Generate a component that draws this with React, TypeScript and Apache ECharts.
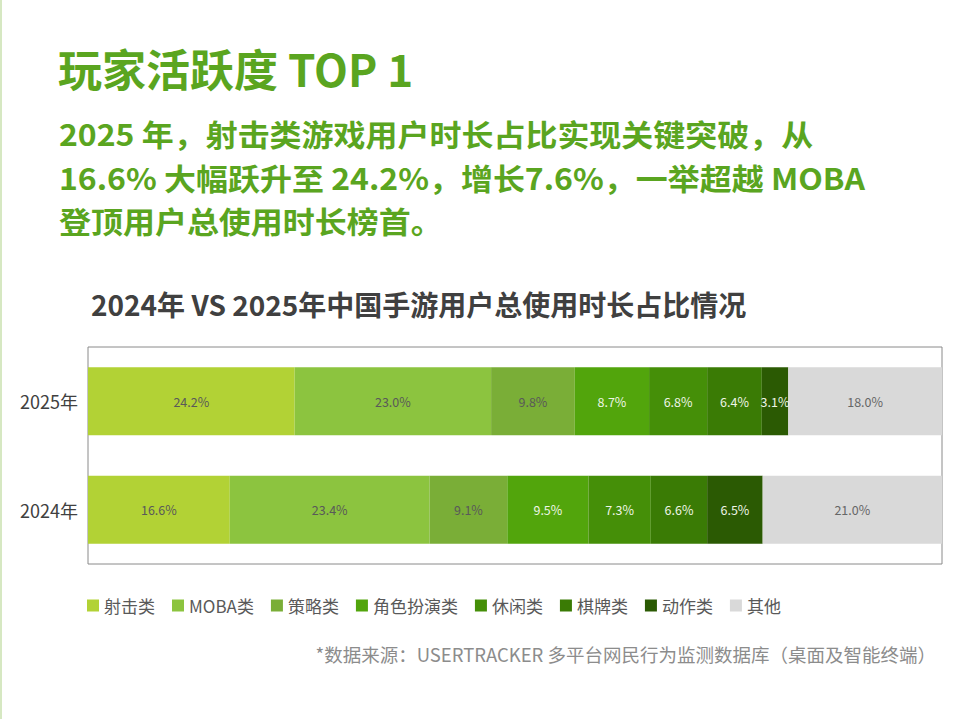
import React, { useEffect, useRef } from "react";
import * as echarts from "echarts";

const years = ["2024年", "2025年"];
const genres = ["射击类", "MOBA类", "策略类", "角色扮演类", "休闲类", "棋牌类", "动作类", "其他"];
const share2024 = [16.6, 23.4, 9.1, 9.5, 7.3, 6.6, 6.5, 21.0];
const share2025 = [24.2, 23.0, 9.8, 8.7, 6.8, 6.4, 3.1, 18.0];
const genreColors = ["#b2d235", "#8cc43f", "#7aae37", "#52a50c", "#458f08", "#3a7b05", "#2b5a03", "#d9d9d9"];
const labelColors = ["#595959", "#595959", "#595959", "#eef5e6", "#eef5e6", "#eef5e6", "#eef5e6", "#666666"];

const headline = "玩家活跃度 TOP 1";
const bodyLines = [
  "2025 年，射击类游戏用户时长占比实现关键突破，从",
  "16.6% 大幅跃升至 24.2%，增长7.6%，一举超越 MOBA",
  "登顶用户总使用时长榜首。",
];
const chartTitle = "2024年 VS 2025年中国手游用户总使用时长占比情况";
const sourceNote = "*数据来源：USERTRACKER 多平台网民行为监测数据库（桌面及智能终端）";

const FONT = "'Noto Sans CJK SC', 'Noto Sans', sans-serif";

export default function App() {
  const ref = useRef<HTMLDivElement>(null);
  useEffect(() => {
    if (!ref.current) return;
    const chart = echarts.init(ref.current, undefined, { renderer: "svg" });
    const series = genres.map((g, i) => ({
      name: g,
      type: "bar",
      stack: "total",
      barWidth: 68,
      itemStyle: { color: genreColors[i] },
      label: {
        show: true,
        position: "inside",
        color: labelColors[i],
        fontSize: 12.5,
        fontFamily: FONT,
        formatter: (p: any) => Number(p.value).toFixed(1) + "%",
      },
      emphasis: { disabled: true },
      data: [share2024[i], share2025[i]],
    }));
    const bodyCenters = [133, 176.5, 220];
    chart.setOption({
      animation: false,
      backgroundColor: "#ffffff",
      textStyle: { fontFamily: FONT },
      grid: {
        left: 88,
        right: 30,
        top: 347,
        bottom: 155,
        show: true,
        borderColor: "#8a8a8a",
        borderWidth: 1,
        containLabel: false,
      },
      xAxis: {
        type: "value",
        min: 0,
        max: 100,
        show: false,
      },
      yAxis: {
        type: "category",
        data: years,
        axisLine: { show: false },
        axisTick: { show: false },
        splitLine: { show: false },
        axisLabel: { fontSize: 18, color: "#404040", margin: 10, fontFamily: FONT },
      },
      legend: {
        data: genres,
        left: 82,
        top: 592,
        itemWidth: 12,
        itemHeight: 12,
        itemGap: 17,
        icon: "rect",
        textStyle: { fontSize: 17, color: "#595959", fontFamily: FONT },
      },
      graphic: [
        {
          type: "rect",
          shape: { x: 0, y: 0, width: 2, height: 719 },
          style: { fill: "#d6e8c2" },
        },
        {
          type: "text",
          left: 58,
          top: 46,
          style: {
            text: headline,
            fontSize: 44,
            fontWeight: "bold",
            fill: "#5aa520",
            fontFamily: FONT,
          },
        },
        ...bodyLines.map((line, i) => ({
          type: "text",
          x: 59,
          y: bodyCenters[i],
          scaleX: 1.066,
          style: {
            text: line,
            fontSize: 30,
            fontWeight: "bold",
            fill: "#5aa520",
            fontFamily: FONT,
            align: "left",
            verticalAlign: "middle",
          },
        })),
        {
          type: "text",
          left: 91,
          top: 290,
          style: {
            text: chartTitle,
            fontSize: 28,
            fontWeight: "bold",
            fill: "#404040",
            fontFamily: FONT,
          },
        },
        {
          type: "text",
          right: 36,
          top: 645,
          style: {
            text: sourceNote,
            fontSize: 18.5,
            fill: "#8c8c8c",
            fontFamily: FONT,
          },
        },
      ],
      series,
    });
    return () => chart.dispose();
  }, []);
  return (
    <div
      ref={ref}
      style={{ position: "absolute", left: 0, top: 0, width: 972, height: 719 }}
    />
  );
}
